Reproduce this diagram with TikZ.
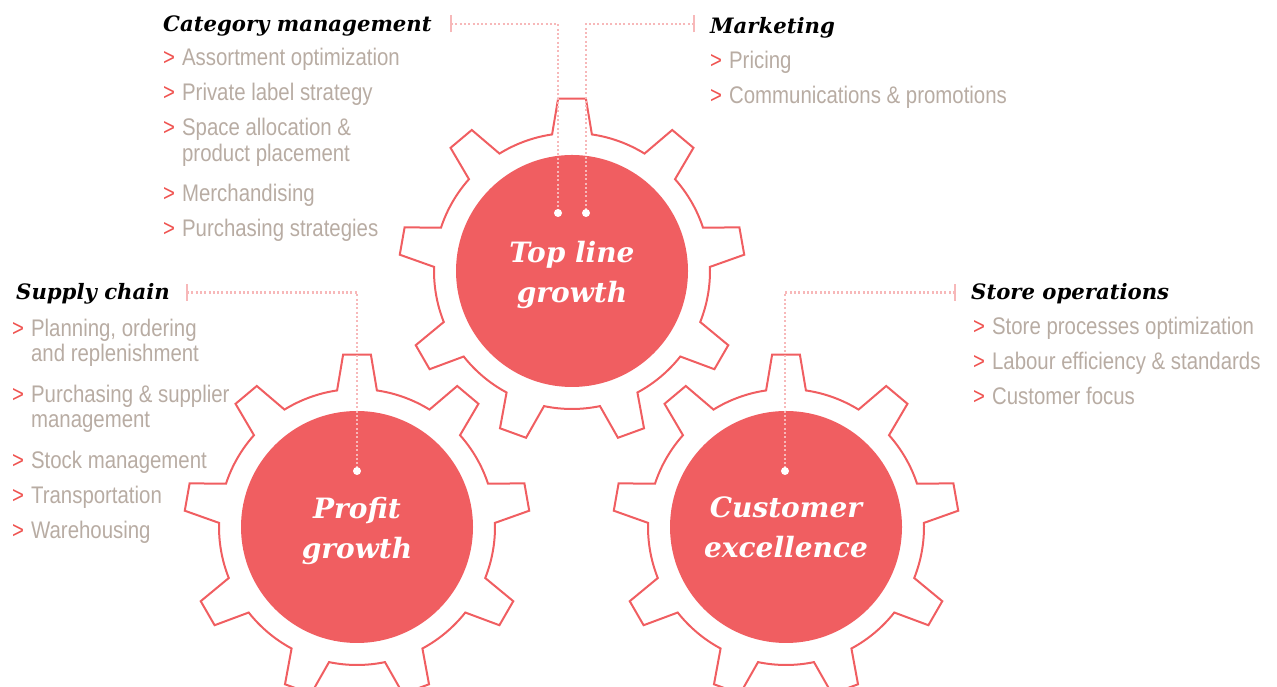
\documentclass[tikz,border=0pt]{standalone}
\usepackage{fontspec}
\usetikzlibrary{positioning,calc}
\newfontfamily\itemfont{Liberation Sans}[FakeStretch=0.85]
\newfontfamily\headfont{DejaVu Serif}
\definecolor{gearred}{HTML}{F05E61}
\definecolor{chevred}{HTML}{EF5350}
\definecolor{itemgrey}{HTML}{B8ACA3}
\definecolor{linkpink}{HTML}{F7B8B9}

% bullet chevron and the indent of a wrapped line
\newcommand\bul{\textcolor{chevred}{>}\hspace{7pt}}
\newcommand\cont{\hphantom{>}\hspace{7pt}}
% taller first line, to sit the hub text a little lower
\newcommand\hubstrut{\rule{0pt}{29pt}}

\begin{document}
\begin{tikzpicture}[
    x=1pt, y=1pt,
    hub/.style={
      circle, fill=gearred, minimum size=232pt, inner sep=0pt,
      text=white, align=center,
      font=\headfont\bfseries\itshape\fontsize{28}{40}\selectfont
    },
    gearline/.style={draw=gearred, line width=2pt, line join=miter},
    head/.style={
      anchor=base west, inner sep=0pt, text=black,
      font=\headfont\bfseries\itshape\fontsize{21.2}{24}\selectfont
    },
    % lists sit on the baseline of their last line
    list/.style={
      anchor=base west, inner sep=0pt, align=left, text=itemgrey,
      font=\itemfont\fontsize{24}{25.5}\selectfont
    },
    linkdot/.style={draw=linkpink, line width=2.2pt, dash pattern=on 2pt off 2.3pt},
    barline/.style={draw=linkpink, line width=2.4pt},
  ]
  \useasboundingbox (0,0) rectangle (1277,687);

  % Hubs
  \node[hub] (top)    at (572,416) {\hubstrut Top line\\growth};
  \node[hub] (profit) at (357,160) {\hubstrut Profit\\growth};
  \node[hub] (cust)   at (786,160) {Customer\\excellence};

  % Gear rims, nine teeth each
  \foreach \g in {top,profit,cust}
    \draw[gearline, shift={(\g.center)}]
      (81.7:138pt) \foreach \a in {90,130,...,410}
        { -- ({\a-4.6}:173pt) -- ({\a+4.6}:173pt) -- ({\a+8.3}:138pt)
          arc[start angle=\a+8.3, end angle=\a+31.7, radius=138pt] }
      -- cycle;

  % Headings
  \node[head] (catHead) at (163,655.5) {Category management};
  \node[head] (mktHead) at (710,653.5) {Marketing};
  \node[head] (supHead) at (16,387.7)  {Supply chain};
  \node[head] (stoHead) at (971,387.7) {Store operations};

  % Lists
  \node[list] (catList) at (163,450.5) {%
    \bul Assortment optimization\\[9.5pt]
    \bul Private label strategy\\[9.5pt]
    \bul Space allocation \&\\
    \cont product placement\\[14.5pt]
    \bul Merchandising\\[9.5pt]
    \bul Purchasing strategies};
  \node[list] (mktList) at (710,583.3) {%
    \bul Pricing\\[9.5pt]
    \bul Communications \& promotions};
  \node[list] (supList) at (12,148.5) {%
    \bul Planning, ordering\\
    \cont and replenishment\\[15pt]
    \bul Purchasing \& supplier\\
    \cont management\\[15pt]
    \bul Stock management\\[9.5pt]
    \bul Transportation\\[9.5pt]
    \bul Warehousing};
  \node[list] (stoList) at (973,282.3) {%
    \bul Store processes optimization\\[9.5pt]
    \bul Labour efficiency \& standards\\[9.5pt]
    \bul Customer focus};

  % Link ends
  \coordinate (catBar) at (451,663);
  \coordinate (mktBar) at (694,663);
  \coordinate (supBar) at (187,394.5);
  \coordinate (stoBar) at (955,394.5);
  \coordinate (topDotL)   at ([shift={(-14,58)}]top.center);
  \coordinate (topDotR)   at ([shift={(14,58)}]top.center);
  \coordinate (profitDot) at ([shift={(0,56)}]profit.center);
  \coordinate (custDot)   at ([shift={(-1,56)}]cust.center);

  % Links
  \draw[linkdot] (catBar) -| (topDotL);
  \draw[linkdot] (mktBar) -| (topDotR);
  \draw[linkdot] (supBar) -| (profitDot);
  \draw[linkdot] (stoBar) -| (custDot);

  \foreach \b in {catBar,mktBar,supBar,stoBar}
    \draw[barline] ([yshift=-8.5pt]\b) -- ([yshift=8.5pt]\b);
  \foreach \d in {topDotL,topDotR,profitDot,custDot}
    \fill[white] (\d) circle (4pt);

\end{tikzpicture}
\end{document}
